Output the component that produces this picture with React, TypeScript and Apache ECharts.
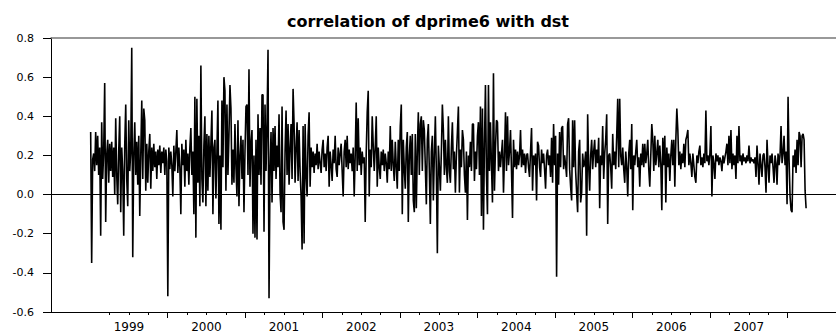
import React, { useEffect, useRef } from "react";
import * as echarts from "echarts";

const titleText = "correlation of dprime6 with dst";
const yTicks = [-0.6, -0.4, -0.2, 0.0, 0.2, 0.4, 0.6, 0.8];
const yearLabels = [1999, 2000, 2001, 2002, 2003, 2004, 2005, 2006, 2007];
const startYear = 1999.006;
const endYear = 2008.24;

// 1999 - 2000
const values1999 = [
  0.32, -0.35, 0.18, 0.21, 0.12, 0.32, 0.15, 0.30, 0.10, 0.24,
  -0.21, 0.37, 0.08, 0.22, 0.57, -0.14, 0.20, 0.28, 0.06, 0.26,
  0.12, 0.27, 0.09, 0.24, 0.00, 0.39, 0.10, -0.05, 0.22, 0.40,
  -0.09, 0.24, 0.12, -0.21, 0.25, 0.46, 0.08, -0.06, 0.38, 0.12,
  0.22, 0.75, -0.32, 0.20, 0.37, 0.10, 0.27, 0.05, 0.30, -0.11,
  0.20, 0.48, 0.08, 0.44, 0.38, 0.02, 0.26, 0.06, 0.22, 0.31,
  0.03, 0.24, 0.12, 0.26, 0.14, 0.22, 0.08, 0.23, 0.15, 0.25,
  0.11, 0.22, 0.16, 0.24, 0.10, 0.23, 0.17, -0.52, 0.24, 0.13,
  0.22, 0.15, -0.01, 0.25, 0.12, 0.22, 0.33, 0.11, 0.24, 0.14,
  -0.10, 0.26, 0.15, 0.23, 0.04, 0.28, 0.12, 0.21, 0.05, 0.24,
  0.34, 0.10, 0.22, -0.10, 0.50, -0.22, 0.49, 0.06, 0.30, -0.06,
  0.66, 0.08, -0.04, 0.25, 0.40, -0.06, 0.31, 0.02, 0.30, 0.09,
  0.26, 0.43, -0.10, 0.24, 0.28, -0.02, 0.22, 0.48, -0.15, 0.20,
  -0.18, 0.48, 0.14, 0.60, 0.53, 0.02, 0.46, 0.10, 0.30, 0.56,
  0.44, 0.05,
];

// 2000 - 2002
const values2001 = [
  0.23, 0.06, 0.36, 0.14, -0.01, 0.38, -0.06, 0.20, 0.30, 0.08,
  0.28, -0.09, 0.22, 0.45, 0.46, 0.10, 0.64, 0.04, 0.26, 0.33,
  -0.20, 0.20, -0.22, 0.28, -0.23, 0.41, 0.10, 0.34, 0.05, 0.51,
  0.51, -0.19, 0.46, 0.12, 0.36, 0.74, -0.53, 0.13, 0.32, -0.04,
  0.34, 0.12, 0.35, 0.08, 0.25, 0.14, 0.41, 0.01, -0.09, 0.45,
  -0.14, -0.18, 0.22, 0.43, 0.10, 0.36, 0.05, 0.24, 0.36, 0.08,
  0.54, 0.36, 0.06, 0.24, 0.37, 0.07, 0.33, 0.12, -0.01, -0.28,
  0.35, -0.25, 0.36, 0.10, -0.01, 0.30, 0.42, 0.04, 0.24, 0.14,
  0.22, 0.11, 0.21, 0.15, 0.26, 0.13, 0.22, 0.16, 0.11, 0.23,
  0.28, 0.14, 0.21, 0.12, 0.24, 0.30, 0.04, 0.22, 0.15, 0.07,
  0.23, 0.16, 0.30, 0.13, 0.09, 0.24, 0.15, 0.21, 0.26, 0.12,
  -0.01, 0.22, 0.28, 0.14, 0.30, 0.13, 0.23, 0.16, 0.21, 0.12,
  0.24, -0.01, 0.20, 0.47, 0.12, 0.39, 0.15, 0.24, 0.10, 0.22,
  0.16, 0.19, -0.14, 0.21, 0.42, 0.53, -0.01, 0.23, 0.14, 0.40,
  0.25, 0.12, 0.24,
];

// 2002 - 2004
const values2003 = [
  0.40, 0.04, 0.24, 0.14, 0.08, 0.22, 0.15, 0.23, 0.12, 0.21,
  0.16, 0.06, 0.22, 0.13, 0.35, 0.12, 0.28, 0.15, 0.07, 0.27,
  0.14, 0.03, 0.28, 0.12, 0.35, 0.46, -0.10, 0.28, 0.13, 0.03,
  0.24, 0.32, -0.14, 0.20, 0.30, 0.10, 0.31, -0.03, -0.09, 0.31,
  -0.07, 0.22, 0.42, 0.10, 0.36, 0.40, 0.12, 0.38, 0.33, 0.14,
  -0.05, 0.28, 0.36, 0.12, -0.15, 0.22, 0.30, -0.03, 0.20, 0.40,
  0.12, -0.30, 0.25, 0.14, 0.02, 0.22, 0.46, 0.33, 0.10, 0.28,
  0.14, 0.06, 0.40, 0.12, 0.06, 0.24, 0.37, 0.13, 0.22, 0.01,
  0.20, 0.32, 0.45, 0.01, 0.23, 0.14, 0.33, 0.28, 0.10, 0.01,
  0.22, -0.13, 0.20, 0.14, 0.27, 0.12, 0.36, 0.36, 0.07, 0.22,
  0.13, 0.30, 0.37, 0.10, 0.45, -0.11, 0.44, -0.18, 0.26, 0.56,
  0.10, -0.10, 0.56, 0.12, 0.37, 0.15, -0.04, 0.62, 0.02, 0.24,
  0.38, 0.37, 0.12, 0.22, 0.14, 0.21, 0.28, 0.01, 0.20, 0.42,
  0.12, 0.40, 0.15, 0.22, 0.33, 0.12, -0.12, 0.28, 0.14, 0.23,
  0.13, 0.22, 0.15, 0.20,
];

// 2004 - 2006
const values2005 = [
  0.33, 0.14, 0.23, 0.15, 0.21, 0.11, 0.20, 0.21, 0.14, 0.09,
  0.22, 0.34, 0.02, 0.20, 0.15, 0.21, -0.03, 0.27, 0.25, 0.14,
  0.09, 0.23, 0.16, 0.21, 0.13, 0.03, 0.20, 0.23, 0.15, 0.20,
  0.09, 0.29, 0.06, 0.36, 0.15, 0.30, -0.42, 0.21, 0.05, 0.32,
  0.14, 0.34, 0.35, 0.13, 0.20, 0.15, 0.09, 0.36, 0.39, 0.13,
  0.04, -0.03, 0.38, 0.14, 0.38, 0.12, 0.01, -0.09, 0.22, 0.28,
  -0.04, 0.01, 0.21, 0.14, 0.16, 0.22, -0.21, 0.41, 0.15, 0.02,
  0.20, 0.28, 0.13, 0.22, 0.28, 0.14, 0.23, 0.16, 0.29, -0.07,
  0.20, 0.15, 0.35, 0.08, 0.21, 0.28, 0.41, -0.15, 0.20, 0.21,
  0.14, 0.03, 0.31, 0.15, 0.22, 0.13, 0.30, 0.49, 0.14, 0.49,
  0.20, 0.15, 0.24, 0.13, 0.06, 0.22, 0.14, -0.01, 0.21, 0.28,
  0.13, 0.36, -0.08, 0.20, 0.15, 0.22, 0.28, 0.14, 0.19, 0.04,
  0.21, 0.15, 0.26, 0.14, 0.26, 0.16, 0.21, 0.28, 0.13, 0.04,
  0.20, 0.36, 0.28, 0.12, 0.30, 0.15, 0.21, 0.28, 0.14, 0.25,
  0.16, -0.08, 0.29, 0.15,
];

// 2006 - 2008
const values2007 = [
  0.30, -0.04, 0.24, 0.14, 0.21, 0.07, 0.20, 0.28, 0.15, 0.28,
  0.04, 0.28, 0.44, 0.33, 0.15, 0.22, 0.13, 0.21, 0.16, 0.26,
  0.14, 0.28, 0.30, 0.33, 0.15, 0.21, 0.16, 0.09, 0.21, 0.15,
  0.09, 0.06, 0.20, 0.16, 0.22, 0.25, 0.15, 0.19, 0.14, 0.21,
  0.16, 0.43, 0.17, 0.20, 0.15, 0.21, 0.35, -0.01, 0.20, 0.16,
  0.08, 0.21, 0.17, 0.20, 0.15, 0.19, 0.17, 0.12, 0.20, 0.16,
  0.19, 0.22, 0.26, 0.15, 0.30, 0.16, 0.33, 0.13, 0.21, 0.15,
  0.20, 0.08, 0.30, 0.16, 0.35, 0.17, 0.20, 0.15, 0.21, 0.17,
  0.19, 0.16, 0.20, 0.17, 0.25, 0.16, 0.19, 0.17, 0.18, 0.16,
  0.19, 0.09, 0.25, 0.16, 0.05, 0.21, 0.15, 0.09, 0.20, 0.21,
  0.14, 0.01, 0.28, 0.15, 0.06, 0.20, 0.16, 0.21, 0.14, 0.06,
  0.20, 0.16, 0.05, 0.21, 0.15, 0.20, 0.35, 0.16, 0.21, 0.30,
  0.15, 0.22, -0.05, 0.50, 0.18, -0.01, -0.08, -0.09, 0.20, 0.14,
  0.23, 0.11, 0.28, 0.15, 0.32, 0.30, 0.14, 0.30, 0.31, 0.28,
  0.02, -0.07,
];

const allValues = [...values1999, ...values2001, ...values2003, ...values2005, ...values2007];

const FONT = '"DejaVu Sans", "Liberation Sans", Arial, sans-serif';

export default function App() {
  const ref = useRef<HTMLDivElement | null>(null);

  useEffect(() => {
    if (!ref.current) return;
    const chart = echarts.init(ref.current, undefined, { renderer: "svg" });
    const n = allValues.length;
    const step = (endYear - startYear) / (n - 1);
    const data = allValues.map((v, i) => [startYear + i * step, v]);

    const quarterTicks: number[] = [];
    for (let q = 1999 * 4 + 1; q <= 2008 * 4; q++) quarterTicks.push(q / 4);
    const yearTicks: number[] = [];
    for (let y = 2000; y <= 2008; y++) yearTicks.push(y);
    const labelPos = yearLabels.map((y) => y + 0.5);

    const xMin = 1998.494;
    const xMax = 2008.626;

    chart.setOption({
      animation: false,
      graphic: [
        {
          type: "text",
          x: 428,
          y: 13,
          style: {
            text: titleText,
            font: `bold 16px ${FONT}`,
            fill: "#000",
            textAlign: "center",
            textVerticalAlign: "top",
          },
        },
      ],
      grid: { left: 51, right: 0, top: 38, bottom: 24, containLabel: false },
      xAxis: [
        {
          type: "value",
          min: xMin,
          max: xMax,
          position: "bottom",
          axisLine: { show: true, onZero: false, lineStyle: { color: "#000", width: 1 } },
          axisTick: {
            show: true,
            inside: false,
            length: 3,
            customValues: quarterTicks,
            lineStyle: { color: "#000", width: 1 },
          },
          axisLabel: {
            show: true,
            customValues: labelPos,
            formatter: (v: number) => String(Math.floor(v)),
            fontFamily: FONT,
            fontSize: 12,
            color: "#000",
            margin: 9,
          },
          splitLine: { show: false },
        },
        {
          type: "value",
          min: xMin,
          max: xMax,
          position: "bottom",
          axisLine: { show: false, onZero: false },
          axisTick: {
            show: true,
            inside: false,
            length: 6,
            customValues: yearTicks,
            lineStyle: { color: "#000", width: 1 },
          },
          axisLabel: { show: false },
          splitLine: { show: false },
        },
        {
          type: "value",
          min: xMin,
          max: xMax,
          position: "top",
          axisLine: { show: true, onZero: false, lineStyle: { color: "#777", width: 1.5 } },
          axisTick: { show: false },
          axisLabel: { show: false },
          splitLine: { show: false },
        },
      ],
      yAxis: {
        type: "value",
        min: -0.6,
        max: 0.8,
        interval: 0.2,
        axisLine: { show: true, onZero: false, lineStyle: { color: "#000", width: 1 } },
        axisTick: { show: true, inside: false, length: 8, lineStyle: { color: "#000" } },
        axisLabel: {
          fontFamily: FONT,
          fontSize: 11,
          color: "#000",
          margin: 17,
          formatter: (v: number) => (Math.abs(v) < 1e-9 ? "0.0" : v.toFixed(1)),
        },
        splitLine: { show: false },
      },
      series: [
        {
          type: "line",
          xAxisIndex: 0,
          yAxisIndex: 0,
          data,
          symbol: "none",
          showSymbol: false,
          lineStyle: { color: "#000", width: 1.6 },
          markLine: {
            silent: true,
            symbol: "none",
            label: { show: false },
            lineStyle: { color: "#000", width: 1, type: "solid" },
            data: [{ yAxis: 0 }],
          },
        },
      ],
    });
    return () => chart.dispose();
  }, []);

  return (
    <div
      ref={ref}
      style={{ position: "absolute", left: 0, top: 0, width: 836, height: 336 }}
    />
  );
}
